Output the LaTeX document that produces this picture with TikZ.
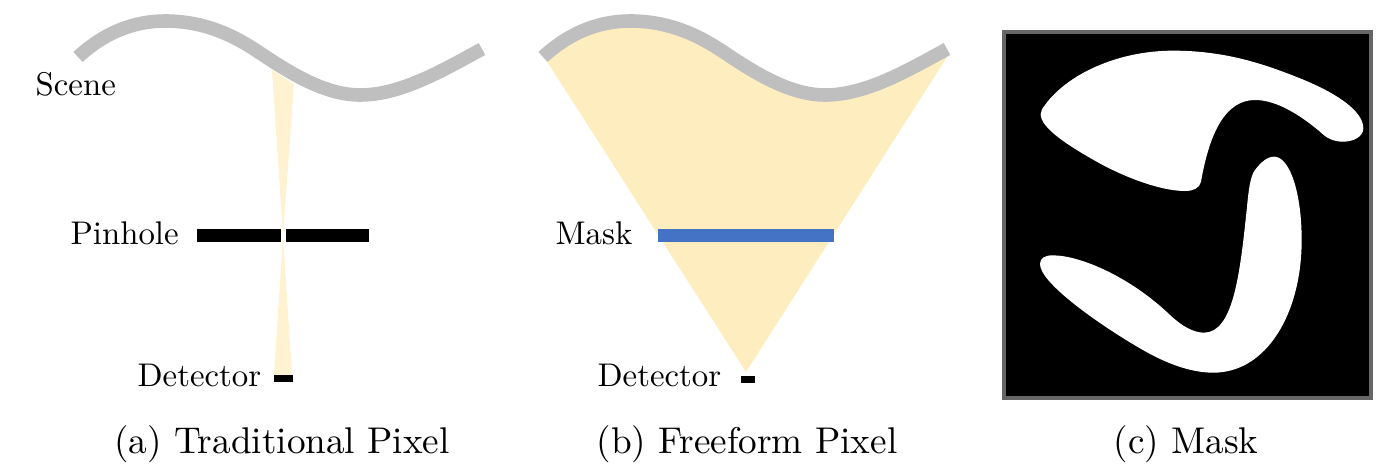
\documentclass[tikz,border=0pt]{standalone}
\definecolor{beamlight}{HTML}{FFF2D1}
\definecolor{beamfull}{HTML}{FEEDBE}
\definecolor{maskblue}{HTML}{4472C4}
\newcommand{\scenecurve}{(78,57) .. controls (105,32) and (135,21) .. (165,21) .. controls (205,21) and (235,36) .. (260,53) .. controls (290,73) and (325,95) .. (360,95) .. controls (400,95) and (440,72) .. (482,49)}
\tikzset{
  scene/.style = {draw=black!25, line width=6.8pt},
  bar/.style = {fill=black},
  label/.style = {anchor=base west, inner sep=0pt, scale=1.64},
  caption/.style = {anchor=base, inner sep=0pt, scale=1.86}
}
\begin{document}
\begin{tikzpicture}[x=0.5pt, y=-0.5pt]
  \useasboundingbox (0,0) rectangle (1399,470);

  % traditional pixel
  \fill[beamlight] (272,70) -- (294,84) -- (283,236) -- (292,375) -- (274,375) -- (283,236) -- cycle;
  \draw[scene] \scenecurve;
  \fill[bar] (197,229) rectangle (281,242);
  \fill[bar] (286,229) rectangle (369,242);
  \fill[bar] (274,375) rectangle (293,382);
  \node[label] (scene) at (35,96) {Scene};
  \node[label] (pinhole) at (70,245) {Pinhole};
  \node[label] (detectorA) at (137,387) {Detector};
  \node[caption] (captionA) at (282,453) {(a) Traditional Pixel};

  % freeform pixel
  \begin{scope}[xshift=232.5pt]
    \fill[beamfull] \scenecurve -- (482,57) -- (281,372) -- (81,60) -- cycle;
    \draw[scene] \scenecurve;
  \end{scope}
  \fill[maskblue] (658,229) rectangle (834,242);
  \fill[bar] (741,376) rectangle (755,383);
  \node[label] (mask) at (555,245) {Mask};
  \node[label] (detectorB) at (597,387) {Detector};
  \node[caption] (captionB) at (747,453) {(b) Freeform Pixel};

  % mask
  \draw[draw=black!60, line width=2pt, fill=black] (1004,32) rectangle (1371,398);
  \begin{scope}[shift={(1000,20)}, x=0.16667pt, y=-0.16667pt]
    \fill[white] (122,283) .. controls (122,272) and (128,264) .. (135,255)
      .. controls (200,165) and (350,92) .. (520,92)
      .. controls (680,92) and (800,135) .. (900,175)
      .. controls (1000,215) and (1090,270) .. (1090,325)
      .. controls (1090,350) and (1060,365) .. (1030,365)
      .. controls (1000,365) and (980,355) .. (960,335)
      .. controls (900,285) and (830,240) .. (765,240)
      .. controls (680,240) and (630,330) .. (603,485)
      .. controls (598,505) and (580,513) .. (555,513)
      .. controls (480,513) and (370,470) .. (290,425)
      .. controls (210,380) and (122,325) .. (122,283) -- cycle;
    \fill[white] (120,732) .. controls (120,714) and (135,706) .. (158,706)
      .. controls (240,706) and (390,770) .. (510,885)
      .. controls (545,918) and (580,938) .. (612,938)
      .. controls (700,938) and (720,760) .. (740,570)
      .. controls (746,510) and (750,470) .. (765,450)
      .. controls (780,430) and (800,410) .. (822,410)
      .. controls (870,410) and (905,520) .. (905,660)
      .. controls (905,880) and (800,1058) .. (640,1058)
      .. controls (560,1058) and (480,1020) .. (420,985)
      .. controls (300,915) and (120,790) .. (120,732) -- cycle;
  \end{scope}
  \node[caption] (captionC) at (1186,453) {(c) Mask};
\end{tikzpicture}
\end{document}
